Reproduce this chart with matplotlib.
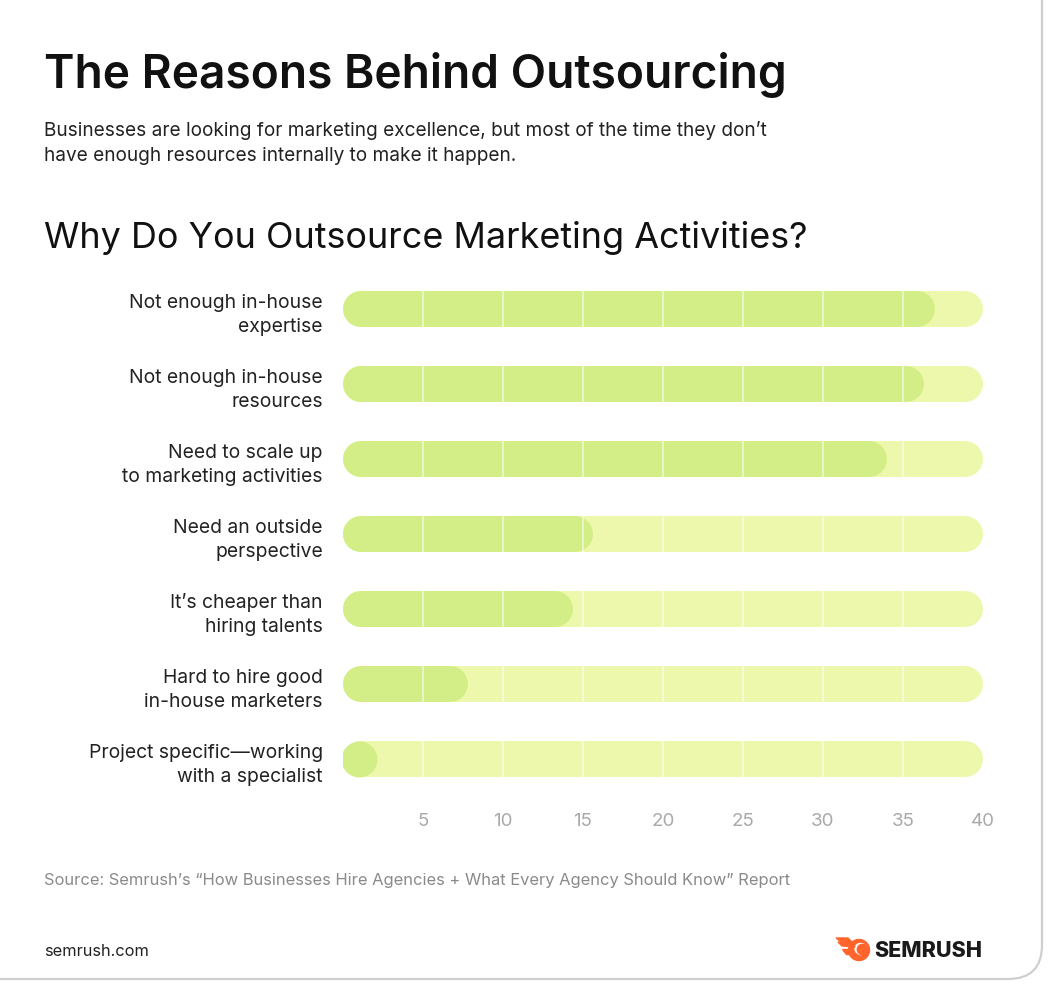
import matplotlib
matplotlib.use("Agg")
import matplotlib.pyplot as plt
from matplotlib.patches import FancyBboxPatch, Circle, Ellipse, Polygon

W, H = 1050, 987

categories = [
    "Not enough in-house\nexpertise",
    "Not enough in-house\nresources",
    "Need to scale up\nto marketing activities",
    "Need an outside\nperspective",
    "It\u2019s cheaper than\nhiring talents",
    "Hard to hire good\nin-house marketers",
    "Project specific\u2014working\nwith a specialist",
]
values = [37, 36.3, 34, 15.6, 14.4, 7.8, 2.0]
ticks = [5, 10, 15, 20, 25, 30, 35, 40]
xmax = 40

FILL = "#d3ee86"
TRACK = "#edf8ac"

plt.rcParams["font.family"] = ["Inter", "DejaVu Sans"]

fig = plt.figure(figsize=(W / 100, H / 100), dpi=100)
fig.patch.set_facecolor("white")

# overlay in pixel coords for card, texts and logo
ov = fig.add_axes([0, 0, 1, 1], zorder=0)
ov.set_xlim(0, W)
ov.set_ylim(H, 0)
ov.axis("off")

ov.add_patch(FancyBboxPatch((-40, -40), 1082, 1020,
                            boxstyle="round,pad=0,rounding_size=34",
                            facecolor="white", edgecolor="#cfcfcf", lw=1.6))

ov.text(44, 75, "The Reasons Behind Outsourcing", fontsize=33.2,
        fontweight="semibold", color="#111111", va="center", ha="left")
ov.text(44, 130, "Businesses are looking for marketing excellence, but most of the time they don\u2019t",
        fontsize=13.7, color="#222222", va="center", ha="left")
ov.text(44, 156, "have enough resources internally to make it happen.",
        fontsize=13.7, color="#222222", va="center", ha="left")
ov.text(44, 238, "Why Do You Outsource Marketing Activities?", fontsize=25.9,
        color="#111111", va="center", ha="left")
ov.text(44, 880, "Source: Semrush\u2019s \u201cHow Businesses Hire Agencies + What Every Agency Should Know\u201d Report",
        fontsize=11.9, color="#8a8a8a", va="center", ha="left")
ov.text(44, 951, "semrush.com", fontsize=11.8, color="#222222",
        va="center", ha="left")

# logo
orange = "#ff642d"
ov.add_patch(Circle((859, 951), 10.5, color=orange))
ov.add_patch(Ellipse((861, 950), 12, 11, angle=20, color="white"))
ov.add_patch(Circle((862.5, 950.5), 5.2, color=orange))
ov.add_patch(Polygon([(838, 943), (852, 943), (855, 948), (842, 947)], color=orange))
ov.add_patch(Polygon([(842, 950), (850, 950), (850, 955), (846, 955)], color=orange))
ov.add_patch(Polygon([(836, 939), (848, 939), (852, 943), (840, 942)], color=orange))
ov.text(874, 951, "SEMRUSH", fontsize=15.5, fontweight="heavy",
        color="#1a1a1a", va="center", ha="left")

# chart axes
x0, x1 = 343, 983
y_top, y_bot = 272.5, 797.5
ax = fig.add_axes([x0 / W, 1 - y_bot / H, (x1 - x0) / W, (y_bot - y_top) / H], zorder=2)
ax.patch.set_alpha(0)
ax.set_xlim(0, xmax)
ax.set_ylim(len(categories) - 0.5, -0.5)

bar_px = 36
lw = bar_px * 0.72
r = (bar_px / 2) / ((x1 - x0) / xmax)

for i, v in enumerate(values):
    ax.plot([r, xmax - r], [i, i], color=TRACK, lw=lw, solid_capstyle="round", zorder=1)
    if v - r > r:
        ax.plot([r, v - r], [i, i], color=FILL, lw=lw, solid_capstyle="round", zorder=2)
    else:
        ax.plot([v / 2], [i], marker="o", ms=lw, color=FILL, mec="none", zorder=2)

for t in ticks[:-1]:
    ax.axvline(t, color="white", lw=1.2, alpha=0.6, zorder=3)

ax.set_xticks(ticks)
ax.set_xticklabels([str(t) for t in ticks])
ax.set_yticks(range(len(categories)))
ax.set_yticklabels(categories, ha="right", multialignment="right", linespacing=1.4)
ax.tick_params(axis="x", length=0, pad=11, labelsize=13.5, labelcolor="#a9a9a9")
ax.tick_params(axis="y", length=0, pad=14.5, labelsize=13.9, labelcolor="#222222")
for s in ax.spines.values():
    s.set_visible(False)

fig.savefig("out.png", dpi=100, facecolor="white")
